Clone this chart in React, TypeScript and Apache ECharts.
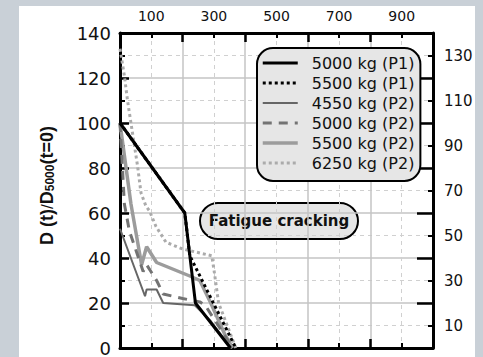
import React, { useEffect, useRef } from "react";
import * as echarts from "echarts";

const FONT = '"DejaVu Sans", "Liberation Sans", sans-serif';
const TITLE_FONT = '"Liberation Sans", Arial, sans-serif';

// ---- data ----
const seriesNames = [
  "5000 kg (P1)",
  "5500 kg (P1)",
  "4550 kg (P2)",
  "5000 kg (P2)",
  "5500 kg (P2)",
  "6250 kg (P2)",
];

const p1_5000 = [[0, 100], [207, 60], [241, 20], [353, 0]];
const p1_5500 = [[0, 100], [207, 60], [223, 41], [370, 0]];
const p2_4550 = [[0, 53], [80, 23], [85, 26], [117, 26], [138, 20], [239, 19], [290, 12], [355, 0]];
const p2_5000 = [[0, 100], [14, 64], [30, 52], [74, 34], [85, 37], [117, 30], [138, 24], [200, 22], [255, 20.5], [272, 19], [300, 13], [360, 0]];
const p2_5500 = [[0, 100], [35, 64], [69, 37], [85, 45], [117, 38], [223, 32], [255, 30], [290, 20], [335, 6], [360, 0]];
const p2_6250 = [[0, 133], [14, 121], [24, 110], [35, 100], [46, 90], [56, 81], [67, 69], [83, 63], [94, 61], [115, 54], [147, 47], [200, 44], [293, 41], [300, 35], [315, 20], [370, 0]];

const topTickLabels = [100, 300, 500, 700, 900];
const rightTickLabels = [10, 30, 50, 70, 90, 110, 130];

const xMin = 0, xMax = 1000, xStep = 200;
const yMin = 0, yMax = 140, yStep = 20;

export default function App() {
  const ref = useRef<HTMLDivElement>(null);

  useEffect(() => {
    if (!ref.current) return;
    const chart = echarts.init(ref.current, undefined, { renderer: "svg" });

    const border = { show: true, onZero: false, lineStyle: { color: "#000", width: 3 } };
    const noLine = { show: false, onZero: false };
    const majTick = (len: number) => ({ show: true, inside: true, length: len, lineStyle: { color: "#000", width: 2.5 } });
    const minTick = (len: number) => ({ show: true, splitNumber: 2, length: len, lineStyle: { color: "#000", width: 2 } });
    const split = { show: true, lineStyle: { color: "#c4c4c4", width: 1.5 } };
    const minorSplit = { show: true, lineStyle: { color: "#d0d0d0", width: 1, type: [4, 4] } };

    const mk = (name: string, data: number[][], color: string, width: number, type: any, z: number) => ({
      name,
      type: "line",
      data,
      symbol: "none",
      z,
      lineStyle: { color, width, type },
      itemStyle: { color },
    });

    chart.setOption({
      animation: false,
      grid: { left: 120, right: 50, top: 33, bottom: 9 },
      legend: {
        orient: "vertical",
        left: 257,
        top: 48,
        padding: [5, 6, 8, 4],
        itemWidth: 35,
        itemHeight: 14,
        itemGap: 0,
        itemStyle: { opacity: 0 },
        lineStyle: { width: "inherit" },
        backgroundColor: "#e6e6e6",
        borderColor: "#000",
        borderWidth: 2,
        borderRadius: 16,
        textStyle: { fontSize: 16, fontFamily: FONT, color: "#111", lineHeight: 20, padding: [0, 0, 0, 9] },
        data: seriesNames,
      },
      xAxis: [
        {
          type: "value", position: "bottom", min: xMin, max: xMax, interval: xStep,
          axisLine: border, axisTick: majTick(9), minorTick: minTick(5),
          splitLine: split, minorSplitLine: minorSplit, axisLabel: { show: false },
        },
        {
          type: "value", position: "top", min: xMin, max: xMax, interval: xStep,
          axisLine: border, axisTick: majTick(9), minorTick: minTick(5),
          splitLine: { show: false }, axisLabel: { show: false },
        },
        {
          type: "value", position: "top", min: xMin, max: xMax, interval: xStep / 2,
          axisLine: noLine, axisTick: { show: false }, splitLine: { show: false },
          axisLabel: {
            fontSize: 14, fontFamily: FONT, color: "#111", margin: 10,
            formatter: (v: number) => (topTickLabels.includes(v) ? String(v) : ""),
          },
        },
      ],
      yAxis: [
        {
          type: "value", position: "left", min: yMin, max: yMax, interval: yStep,
          axisLine: border, axisTick: majTick(9), minorTick: minTick(5),
          splitLine: split, minorSplitLine: minorSplit,
          axisLabel: { fontSize: 18, fontFamily: FONT, color: "#111", margin: 9 },
          name: "{a|D (t)}{b|/}{a|D}{c|5000}{a|(t=0)}",
          nameLocation: "middle",
          nameRotate: 90,
          nameGap: 64,
          nameTextStyle: {
            fontFamily: TITLE_FONT,
            color: "#111",
            padding: [0, 0, 0, 10],
            rich: {
              a: { fontSize: 18, fontWeight: "bold", fontFamily: TITLE_FONT, color: "#111" },
              b: { fontSize: 17, fontFamily: TITLE_FONT, color: "#111" },
              c: { fontSize: 12, fontWeight: "bold", fontFamily: TITLE_FONT, color: "#111", verticalAlign: "bottom" },
            },
          },
        },
        {
          type: "value", position: "right", min: yMin, max: yMax, interval: yStep,
          axisLine: border, axisTick: majTick(16), minorTick: minTick(5),
          splitLine: { show: false }, axisLabel: { show: false },
        },
        {
          type: "value", position: "right", min: yMin, max: yMax, interval: yStep / 2,
          axisLine: noLine, axisTick: { show: false }, splitLine: { show: false },
          axisLabel: {
            fontSize: 15, fontFamily: FONT, color: "#111", margin: 11,
            formatter: (v: number) => (rightTickLabels.includes(v) ? String(v) : ""),
          },
        },
      ],
      graphic: [
        {
          type: "group",
          left: 199,
          top: 202,
          z: 100,
          children: [
            {
              type: "rect",
              shape: { x: 0, y: 0, width: 158, height: 36, r: 18 },
              style: { fill: "#e6e6e6", stroke: "#000", lineWidth: 2 },
            },
            {
              type: "text",
              x: 79,
              y: 18,
              style: {
                text: "Fatigue cracking",
                fontSize: 15,
                fontWeight: "bold",
                fontFamily: FONT,
                fill: "#111",
                align: "center",
                verticalAlign: "middle",
              },
            },
          ],
        },
      ],
      series: [
        mk(seriesNames[0], p1_5000, "#000000", 3, "solid", 8),
        mk(seriesNames[1], p1_5500, "#000000", 3, [3, 3], 7),
        mk(seriesNames[2], p2_4550, "#666666", 2, "solid", 5),
        mk(seriesNames[3], p2_5000, "#737373", 3, [9, 7], 6),
        mk(seriesNames[4], p2_5500, "#9c9c9c", 3.5, "solid", 4),
        mk(seriesNames[5], p2_6250, "#ababab", 3, [3, 3], 3),
      ],
    });

    return () => chart.dispose();
  }, []);

  return (
    <div style={{ position: "fixed", left: 0, top: 0, width: 483, height: 357, background: "#c9d0d7", overflow: "hidden" }}>
      <div style={{ position: "absolute", left: 19, top: 6, width: 456, height: 351, background: "#ffffff" }} />
      <div ref={ref} style={{ position: "absolute", left: 0, top: 0, width: 483, height: 357 }} />
    </div>
  );
}
